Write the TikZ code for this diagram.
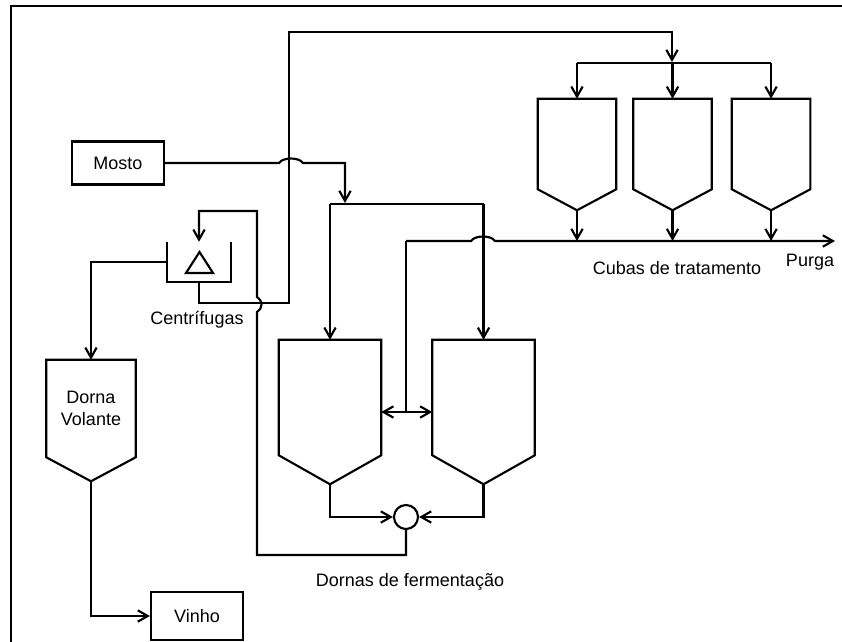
\documentclass[tikz,border=0pt]{standalone}
\usepackage{fontspec}
\setmainfont{Liberation Sans}
\usetikzlibrary{arrows.meta,positioning,calc}
\newcommand{\tanque}[2]{\draw[linha] (#1.north west) -- (#1.north east) -- ([yshift=#2]#1.south east) -- (#1.south) -- ([yshift=#2]#1.south west) -- cycle;}

\begin{document}
\begin{tikzpicture}[
  x=0.75pt, y=-0.75pt,
  font=\fontsize{13.5}{16}\selectfont,
  linha/.style={line width=1.6pt},
  arr/.style={linha,-{Straight Barb[length=7.5pt,width=8.5pt]}},
  caixa/.style={draw,linha,minimum width=69pt,inner sep=0},
  cuba/.style={minimum width=58.5pt,minimum height=83.25pt,inner sep=0},
  dorna/.style={minimum width=76.5pt,minimum height=108pt,inner sep=0},
  volante/.style={minimum width=66.75pt,minimum height=90.75pt,inner sep=0}
]
  \useasboundingbox (0,0) rectangle (842,642);
  \draw[linha] (11,642) -- (11,6) -- (842,6);

  % caixas e tanques
  \node[caixa,minimum height=32.25pt] (mosto) at (118,163) {Mosto};
  \node[caixa,minimum height=36pt] (vinho) at (197,616) {Vinho};
  \node[volante,label={[align=center,yshift=9pt]center:Dorna\\Volante}] (dv) at (91,420.5) {};
  \node[dorna] (f1) at (330,412) {};
  \node[dorna,right=38.25pt of f1] (f2) {};
  \node[cuba] (c1) at (577,154.5) {};
  \node[cuba,right=12.75pt of c1] (c2) {};
  \node[cuba,right=15pt of c2] (c3) {};
  \tanque{dv}{18pt}
  \tanque{f1}{21.75pt}
  \tanque{f2}{21.75pt}
  \tanque{c1}{15.75pt}
  \tanque{c2}{15.75pt}
  \tanque{c3}{15.75pt}

  % centrifugas
  \node[minimum width=47.25pt,minimum height=30pt,inner sep=0] (centrif) at (199,262) {};
  \draw[linha] (centrif.north west) -- (centrif.south west) -- (centrif.south east) -- (centrif.north east);
  \draw[linha] (186,273) -- (213,273) -- (199.5,252) -- cycle;
  \node[circle,draw,linha,minimum size=18pt,inner sep=0] (mix) at (406,517) {};

  % textos
  \node (lcentrif) at (197,320) {Centrífugas};
  \node (ldornas) at (410,582) {Dornas de fermentação};
  \node (lcubas) at (677,268) {Cubas de tratamento};
  \node (lpurga) at (810,262) {Purga};

  \coordinate (distf) at (345,204);
  \coordinate (distc) at (672,63);
  \coordinate (junc) at (406,241);
  \coordinate (purga) at (835,241);

  % mosto para as dornas
  \draw[arr] (mosto.east) -- (279,163) .. controls (283,157) and (299,157) .. (303,163) -| ($(distf)+(0,-1)$);
  \draw[linha] (f1.north |- distf) -- (f2.north |- distf);
  \draw[arr] (f1.north |- distf) -- (f1.north);
  \draw[arr] (f2.north |- distf) -- (f2.north);

  % dornas para centrifugas
  \draw[arr] (f1.south) |- (mix.west);
  \draw[arr] (f2.south) |- (mix.east);
  \draw[arr] (mix.south) |- (257,555) -- (257,312) .. controls (263,309) and (263,300) .. (257,297) -- (257,211) -| (centrif.north);
  \draw[arr] (f1.east) -- (f2.west);
  \draw[arr] (f2.west) -- (f1.east);

  % centrifugas
  \draw[arr] (centrif.west) -| (dv.north);
  \draw[arr] (dv.south) |- (vinho.west);
  \draw[arr] (centrif.south) |- (289,303) -- (289,32) -| ($(distc)+(0,-1)$);

  % cubas
  \draw[linha] (c1.north |- distc) -- (c3.north |- distc);
  \draw[arr] (c1.north |- distc) -- (c1.north);
  \draw[arr] (c2.north |- distc) -- (c2.north);
  \draw[arr] (c3.north |- distc) -- (c3.north);
  \draw[arr] (c1.south) -- (c1.south |- junc);
  \draw[arr] (c2.south) -- (c2.south |- junc);
  \draw[arr] (c3.south) -- (c3.south |- junc);

  % purga
  \draw[linha] (junc) -- (junc |- f1.east);
  \draw[arr] (junc) -- (471,241) .. controls (475,235) and (491,235) .. (495,241) -- (purga);
\end{tikzpicture}
\end{document}
